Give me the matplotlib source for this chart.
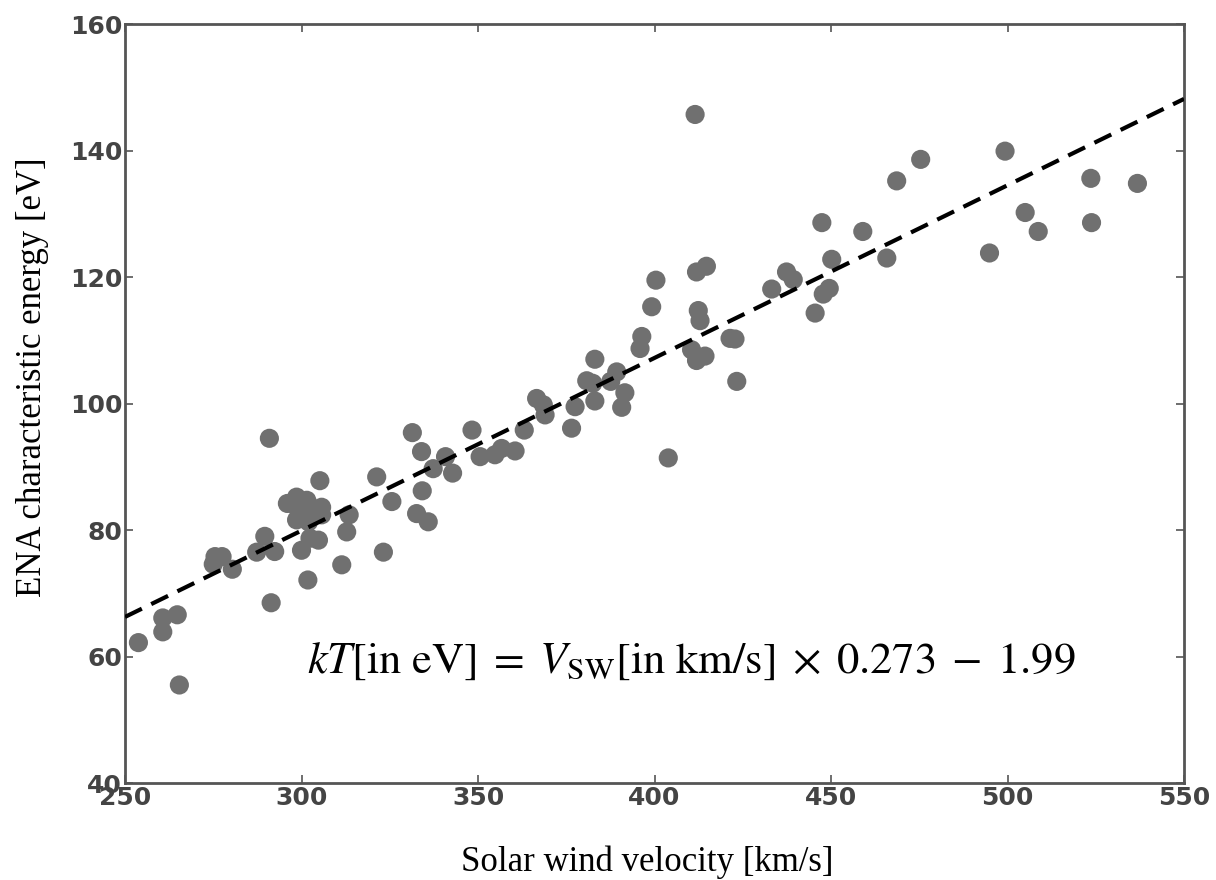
import numpy as np
import matplotlib.pyplot as plt

# ENA characteristic energy vs solar wind speed, with linear fit
v_sw = [253.8, 260.7, 260.7, 264.8, 265.4, 275.0, 275.5, 277.5, 280.4, 287.3,
        289.6, 291.4, 290.9, 292.4, 296.0, 298.6, 301.5, 298.6, 305.7, 305.7,
        302.0, 298.6, 302.0, 300.0, 302.4, 304.8, 301.8, 305.2, 311.4, 312.8,
        313.5, 321.3, 323.2, 325.6, 331.4, 332.6, 334.0, 334.2, 335.9, 337.3,
        340.8, 342.8, 348.3, 350.6, 354.8, 356.7, 360.5, 363.1, 366.6, 368.5,
        369.0, 376.5, 377.5, 380.8, 382.5, 383.1, 383.1, 387.6, 389.3, 391.6,
        390.7, 395.9, 396.4, 399.2, 400.4, 403.9, 410.5, 411.5, 411.9, 411.9,
        412.4, 412.9, 414.3, 414.7, 421.4, 422.8, 423.3, 433.2, 437.4, 439.3,
        445.5, 447.4, 447.8, 449.5, 450.2, 459.0, 465.8, 468.6, 475.4, 494.9,
        499.3, 505.0, 508.7, 523.6, 523.8, 536.8]
e_ena = [62.2, 63.9, 66.1, 66.6, 55.5, 74.6, 75.8, 75.8, 73.8, 76.5,
         79.0, 68.5, 94.5, 76.6, 84.2, 85.2, 84.7, 83.7, 83.6, 82.4,
         82.9, 81.6, 81.3, 76.8, 78.7, 78.4, 72.1, 87.8, 74.5, 79.7,
         82.4, 88.4, 76.5, 84.5, 95.4, 82.6, 92.4, 86.2, 81.3, 89.7,
         91.6, 89.0, 95.8, 91.6, 91.9, 92.9, 92.5, 95.8, 100.8, 99.8,
         98.2, 96.1, 99.5, 103.6, 103.2, 107.0, 100.4, 103.5, 105.0, 101.7,
         99.4, 108.7, 110.6, 115.3, 119.5, 91.4, 108.5, 145.7, 120.8, 106.8,
         114.7, 113.1, 107.5, 121.7, 110.3, 110.2, 103.5, 118.1, 120.8, 119.6,
         114.3, 128.6, 117.3, 118.2, 122.8, 127.2, 123.0, 135.2, 138.6, 123.8,
         139.9, 130.2, 127.2, 135.6, 128.6, 134.8]

slope, intercept = 0.273, -1.99
fit_x = np.array([250, 550])

plt.rcParams['mathtext.fontset'] = 'stix'

fig = plt.figure(figsize=(12.16, 8.8), dpi=100)
ax = fig.add_axes([0.1028, 0.1102, 0.8709, 0.8625])

ax.scatter(v_sw, e_ena, s=190, color="#707070", edgecolors="none", zorder=2)
ax.plot(fit_x, slope * fit_x + intercept, color="black", lw=3,
        dashes=(4.5, 2.5), zorder=3)

eq = (r"$kT[\mathrm{in\ eV}]\;=\;V_{\mathrm{SW}}[\mathrm{in\ km/s}]"
      r"\;\times\;0.273\;-\;1.99$")
ax.text(301.5, 59.4, eq, fontsize=32, ha="left", va="center")

ax.set_xlim(250, 550)
ax.set_ylim(40, 160)
ax.set_xticks(np.arange(250, 551, 50))
ax.set_yticks(np.arange(40, 161, 20))
ax.tick_params(direction="in", length=6, width=1.2, top=True, right=True,
               labelsize=18, labelcolor="#444444", color="#555555", pad=2)
for lab in ax.get_xticklabels() + ax.get_yticklabels():
    lab.set_fontweight("bold")
for sp in ax.spines.values():
    sp.set_linewidth(2)
    sp.set_color("#555555")

ax.set_xlabel("Solar wind velocity [km/s]", family="Liberation Serif", fontsize=25)
ax.set_ylabel("ENA characteristic energy [eV]", family="Liberation Serif", fontsize=25)
ax.xaxis.set_label_coords(0.493, -0.082)
ax.yaxis.set_label_coords(-0.072, 0.535)

fig.savefig("out.png", dpi=100)
